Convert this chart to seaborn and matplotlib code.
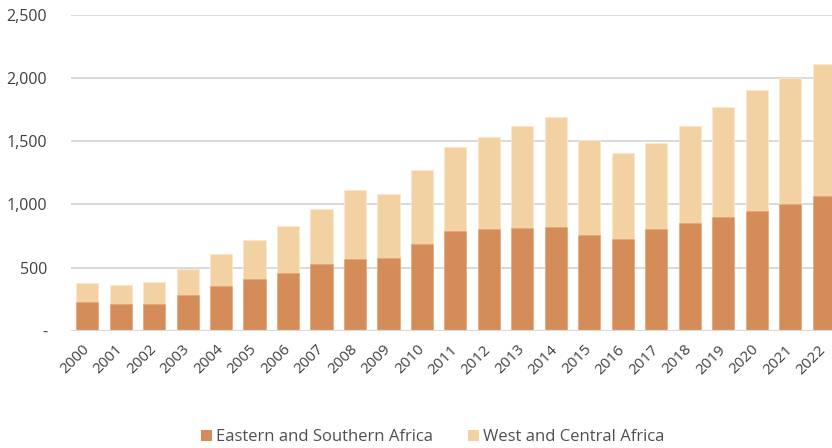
import numpy as np
import pandas as pd
import matplotlib
matplotlib.use("Agg")
import matplotlib.pyplot as plt
import seaborn as sns
from matplotlib.patches import Patch
from matplotlib.ticker import FuncFormatter

years = [str(y) for y in range(2000, 2023)]
east = [227, 211, 211, 282, 354, 412, 457, 528, 568, 578, 684, 789, 805, 813,
        821, 755, 729, 805, 855, 900, 950, 1003, 1067]
west = [150, 151, 177, 209, 253, 306, 369, 436, 546, 502, 588, 668, 729, 805,
        869, 755, 681, 681, 766, 874, 956, 1001, 1045]
labels = ["Eastern and Southern Africa", "West and Central Africa"]
dark = "#D48D59"
light = "#F2D2A3"

df = pd.DataFrame({"year": years, "east": east, "west": west})
df["total"] = df["east"] + df["west"]

sns.set_theme(style="white")
plt.rcParams["font.family"] = ["Open Sans", "DejaVu Sans"]

fig = plt.figure(figsize=(8.32, 4.48), dpi=100)
ax = fig.add_axes([70.7 / 832, 1 - 330.7 / 448, (840.5 - 70.7) / 832, (330.7 - 15) / 448])

# stacked: draw total in light, then the lower segment on top
sns.barplot(data=df, x="year", y="total", color=light, width=0.66, saturation=1,
            edgecolor="#FBE8CC", linewidth=0.6, ax=ax, zorder=3)
sns.barplot(data=df, x="year", y="east", color=dark, width=0.66, saturation=1,
            edgecolor="#E2A678", linewidth=0.4, ax=ax, zorder=4)

ax.set_ylim(0, 2500)
ax.set_xlim(-0.49, 22.5)
ax.set_yticks(range(0, 2501, 500))
ax.yaxis.set_major_formatter(FuncFormatter(lambda v, p: "-" if v == 0 else f"{int(v):,}"))
ax.grid(axis="y", color="#D9D9D9", linewidth=1.4, zorder=0)
ax.set_axisbelow(True)
for s in ["top", "right", "left", "bottom"]:
    ax.spines[s].set_visible(False)
ax.axhline(0, color="#D9D9D9", linewidth=1.6, zorder=5)
ax.set_xlabel("")
ax.set_ylabel("")
ax.tick_params(axis="y", length=0, pad=17, labelsize=11.5, labelcolor="#404040")
ax.tick_params(axis="x", length=0, pad=12, labelsize=11, labelcolor="#404040")
plt.setp(ax.get_xticklabels(), rotation=45, ha="right", va="center", rotation_mode="anchor")

handles = [Patch(facecolor=dark, edgecolor="none"), Patch(facecolor=light, edgecolor="none")]
fig.legend(handles, labels, loc="center", bbox_to_anchor=(433 / 832, 1 - 437 / 448),
           ncol=2, frameon=False, fontsize=12, labelcolor="#505050",
           handlelength=0.66, handleheight=0.66, handletextpad=0.25, columnspacing=2.1,
           borderpad=0, borderaxespad=0)

fig.savefig("out.png", dpi=100)
